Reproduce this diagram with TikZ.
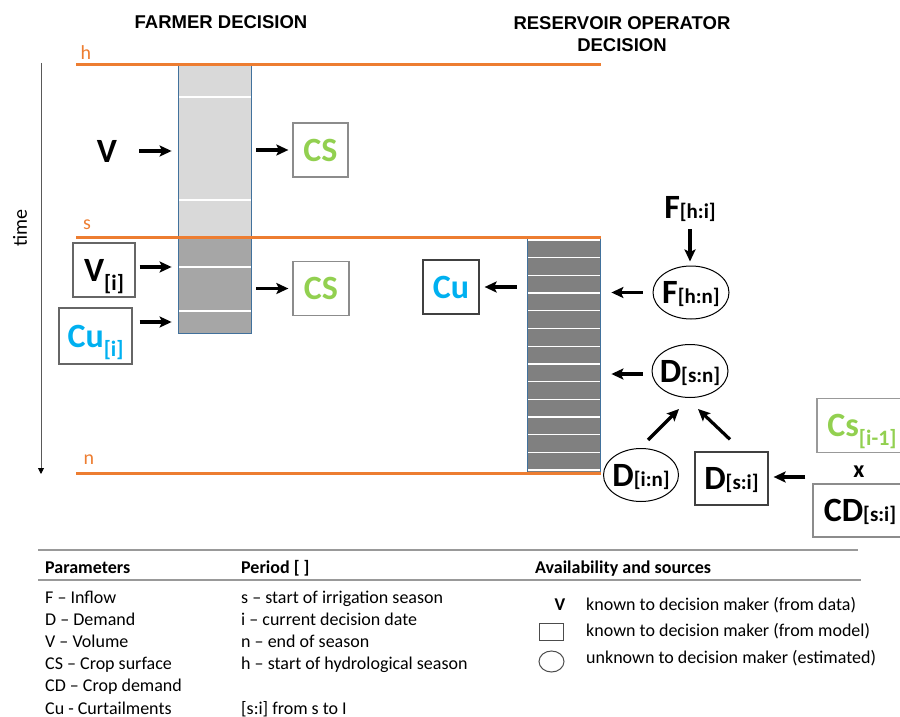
\documentclass[tikz,border=0pt]{standalone}
\usepackage{fontspec}
\setmainfont{Carlito}
\newfontfamily\titlefont{Liberation Sans}
\usetikzlibrary{arrows.meta,shapes.geometric}

\definecolor{hydro}{HTML}{ED7D31}
\definecolor{cropgreen}{HTML}{92D050}
\definecolor{curtblue}{HTML}{00B0F0}
\definecolor{colborder}{HTML}{41719C}

% lowered index, and index on the baseline
\newcommand{\lowsub}[2]{#1\raisebox{-9pt}{\fontsize{22}{22}\selectfont #2}}
\newcommand{\sidesub}[2]{#1{\fontsize{21}{21}\selectfont #2}}

\begin{document}
\begin{tikzpicture}[x=1pt,y=-1pt,>={Stealth[length=12pt,width=11pt,inset=2.5pt]},
  bigtxt/.style={font=\fontsize{34}{36}\selectfont\bfseries,inner sep=0pt,text height=24pt,text depth=2pt},
  knownbox/.style={bigtxt,draw=black!75,line width=1.2pt,minimum height=54pt},
  estim/.style={bigtxt,ellipse,draw,line width=1pt,minimum width=76pt,minimum height=53pt},
  arr/.style={->,line width=3.2pt},
  horizon/.style={hydro,line width=3pt},
  horizonlbl/.style={text=hydro,font=\fontsize{20}{20}\selectfont,inner sep=0pt},
  colframe/.style={draw=colborder,line width=0.8pt,minimum width=73pt,inner sep=0pt},
  stripe/.style={white,line width=1.3pt},
  headtxt/.style={font=\titlefont\bfseries\fontsize{18.5}{22}\selectfont,align=center,inner sep=0pt},
  tabtxt/.style={font=\fontsize{18}{20}\selectfont,anchor=base west,inner sep=0pt}]

  \useasboundingbox (0,0) rectangle (900,717);

  \node[headtxt] (farmhead) at (221,22.5) {FARMER DECISION};
  \node[headtxt] (reshead) at (622,34) {RESERVOIR OPERATOR\\DECISION};

  % time axis
  \draw[black!65,line width=0.9pt,-{Triangle[length=6pt,width=6pt,black]}] (41,63) -- (41,474);
  \node[rotate=90,font=\fontsize{20}{20}\selectfont] (timelbl) at (20,228) {time};

  % farmer column
  \fill[black!15] (178,65) rectangle (251,237);
  \fill[black!35] (178,237) rectangle (251,333);
  \foreach \y in {97,200,267,311}
    \draw[stripe] (178,\y) -- (251,\y);
  \node[colframe,minimum height=268pt] (farm) at (214.5,199) {};

  % reservoir column
  \fill[black!50] (527,237) rectangle (600,472);
  \foreach \k in {0,...,13}
    \draw[stripe] (527,{240+17.7*\k}) -- (600,{240+17.7*\k});
  \node[colframe,minimum height=235pt] (res) at (563.5,354.5) {};

  % h, s, n
  \draw[horizon] (76,65) -- (601,65);
  \draw[horizon] (76,237) -- (601,237);
  \draw[horizon] (76,473) -- (601,473);
  \node[horizonlbl] (hlbl) at (86,53) {h};
  \node[horizonlbl] (slbl) at (87,225) {s};
  \node[horizonlbl] (nlbl) at (89,460) {n};

  % farmer side
  \node[bigtxt] (V) at (107,151) {V};
  \node[knownbox,draw=black!45,text=cropgreen,minimum width=55pt] (CS1) at (320.5,150) {CS};
  \node[knownbox,draw=black!60,minimum width=62pt] (Vi) at (104,270) {\lowsub{V}{[i]}};
  \node[knownbox,draw=black!45,text=cropgreen,minimum width=56pt] (CS2) at (321,288.5) {CS};
  \node[knownbox,draw=black!60,text=curtblue,minimum width=73pt,minimum height=56pt] (Cui) at (95.5,336) {\lowsub{Cu}{[i]}};

  % reservoir side
  \node[knownbox,text=curtblue,minimum width=56pt] (Cu) at (451,287) {Cu};
  \node[bigtxt] (Fhi) at (690,207) {\sidesub{F}{[h:i]}};
  \node[estim] (Fhn) at (691,292.5) {\makebox[0pt]{\sidesub{F}{[h:n]}}};
  \node[estim] (Dsn) at (690,371) {\makebox[0pt]{\sidesub{D}{[s:n]}}};
  \node[estim,minimum width=75pt] (Din) at (641,475) {\makebox[0pt]{\sidesub{D}{[i:n]}}};
  \node[knownbox,minimum width=73pt,minimum height=53pt] (Dsi) at (731.5,478.5) {\sidesub{D}{[s:i]}};
  \node[knownbox,draw=black!40,text=cropgreen,minimum width=90pt] (Csi) at (862,425.5) {\lowsub{Cs}{[i-1]}};
  \node[font=\fontsize{24}{24}\selectfont\bfseries,inner sep=0pt] (xsym) at (859,472) {x};
  \node[knownbox,draw=black!45,minimum width=94pt,minimum height=53pt] (CDsi) at (860,510.5) {\sidesub{CD}{[s:i]}};

  \draw[arr,shorten <=22pt,shorten >=6pt] (V) -- (V -| farm.west);
  \draw[arr,shorten <=4pt,shorten >=6pt] ([yshift=3pt]Vi.east) -- ([yshift=3pt]Vi.east -| farm.west);
  \draw[arr,shorten <=7pt,shorten >=6pt] ([yshift=14pt]Cui.east) -- ([yshift=14pt]Cui.east -| farm.west);
  \draw[arr,shorten <=5pt,shorten >=4pt] (farm.east |- CS1) -- (CS1);
  \draw[arr,shorten <=5pt,shorten >=4pt] (farm.east |- CS2) -- (CS2);
  \draw[arr,shorten <=10pt,shorten >=5pt] (res.west |- Cu) -- (Cu);
  \draw[arr,shorten <=10pt,shorten >=11pt] (Fhn) -- (Fhn -| res.east);
  \draw[arr,shorten <=9pt,shorten >=11pt] ([yshift=-3pt]Dsn.west) -- ([yshift=-3pt]Dsn.west -| res.east);
  \draw[arr,shorten <=9pt,shorten >=4pt] (Fhi) -- (Fhi |- Fhn.north);
  \draw[arr] ([shift={(7,-8)}]Din.north) -- ([shift={(-11,11)}]Dsn.south);
  \draw[arr] ([shift={(-1.5,-12)}]Dsi.north) -- ([shift={(8,11)}]Dsn.south);
  \draw[arr,shorten <=48pt,shorten >=5pt] ([yshift=-5pt]xsym.west) -- ([yshift=-5pt]xsym.west -| Dsi.east);

  % table
  \draw[black!40,line width=1.3pt] (38,550) -- (858,550);
  \draw[black!40,line width=1.3pt] (38,580) -- (861,580);
  \node[tabtxt,font=\fontsize{18}{20}\selectfont\bfseries] (parhead) at (45,573) {Parameters};
  \node[tabtxt,font=\fontsize{18}{20}\selectfont\bfseries] (perhead) at (241,573) {Period [ ]};
  \node[tabtxt,font=\fontsize{18}{20}\selectfont\bfseries] (avahead) at (535,573) {Availability and sources};
  \foreach \txt [count=\k] in {F -- Inflow, D -- Demand, V -- Volume, CS -- Crop surface, CD -- Crop demand, Cu - Curtailments}
    \node[tabtxt] at (45,{580.8+22.2*\k}) {\txt};
  \foreach \k/\txt in {1/s -- start of irrigation season, 2/i -- current decision date, 3/n -- end of season, 4/h -- start of hydrological season, 6/{[s:i] from s to I}}
    \node[tabtxt] at (241,{580.8+22.2*\k}) {\txt};

  % legend
  \node[tabtxt,font=\fontsize{18}{20}\selectfont\bfseries,anchor=base] (legV) at (560,610) {V};
  \node[draw=black!70,line width=1pt,minimum width=24pt,minimum height=17pt,inner sep=0pt] (legbox) at (551,631.5) {};
  \node[ellipse,draw=black!70,line width=1pt,minimum width=25pt,minimum height=21pt,inner sep=0pt] (legell) at (551.5,661.5) {};
  \node[tabtxt] (legVtxt) at (586,610) {known to decision maker (from data)};
  \node[tabtxt] (legboxtxt) at (586,636) {known to decision maker (from model)};
  \node[tabtxt] (legelltxt) at (586,663) {unknown to decision maker (estimated)};
\end{tikzpicture}
\end{document}
